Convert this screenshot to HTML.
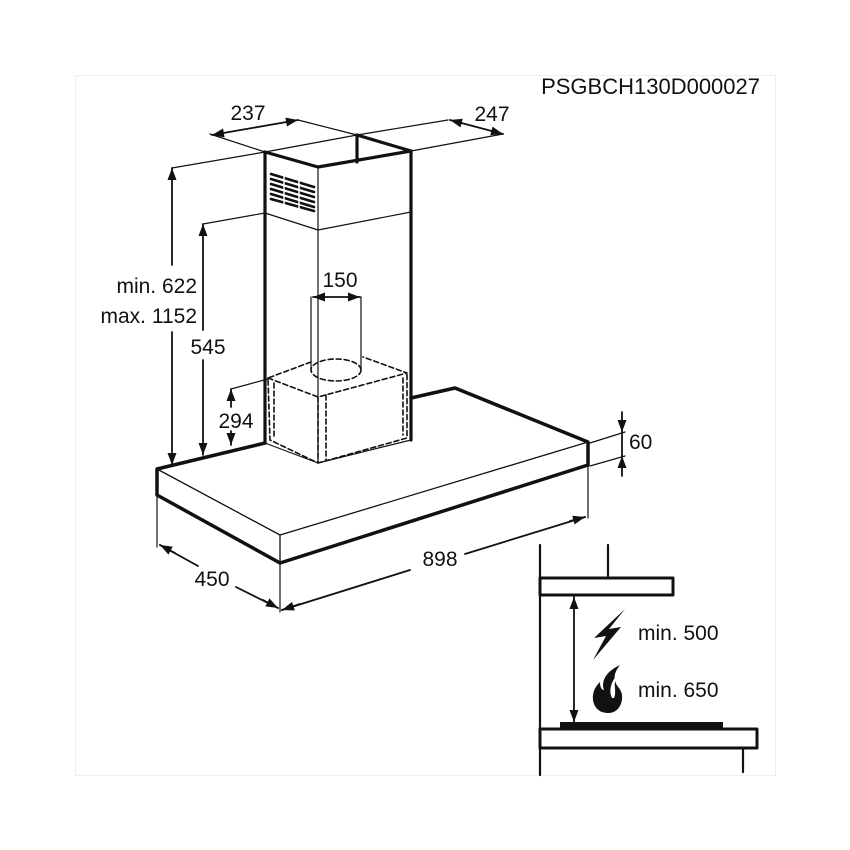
<!DOCTYPE html>
<html><head><meta charset="utf-8"><style>
html,body{margin:0;padding:0;background:#fff}
svg{display:block}
text{font-family:"Liberation Sans",Arial,sans-serif;fill:#111}
</style></head><body>
<svg width="850" height="850" viewBox="0 0 850 850" xmlns="http://www.w3.org/2000/svg">
<defs>
<marker id="a" viewBox="0 0 12 10" refX="12" refY="5" markerWidth="13" markerHeight="10" orient="auto-start-reverse" markerUnits="userSpaceOnUse"><path d="M0,0.5 L12,5 L0,9.5 z" fill="#111"/></marker>
</defs>
<rect x="75.5" y="75.5" width="700" height="700" fill="none" stroke="#eee" stroke-width="1"/>
<text x="760" y="94" font-size="22" text-anchor="end">PSGBCH130D000027</text>

<g stroke="#111" fill="none" stroke-linecap="round" stroke-linejoin="round">
<!-- hood canopy -->
<path d="M157,469 L280,535 L588,442 M280,535 L280,563" stroke-width="1.3"/>
<path d="M411,398 L455,388 L588,442 L588,465 L280,563 L157,495 L157,469 L265,443" stroke-width="3.5"/>
<!-- chimney -->
<path d="M265,152 L265,443 M411,151 L411,440 M265,152 L318,167 L411,151 M357,135 L411,151 M357,135 L357,162" stroke-width="3.2"/>
<path d="M318,167 L318,463 M265,213 L318,230 L411,212 M265,152 L357,135" stroke-width="1.2"/>
<path d="M318,463 L265,443 M318,463 L411,440" stroke-width="1.2"/>
<!-- vents -->
<g stroke-width="2.6">
<path d="M271,174 L314,187 M271,179 L314,192 M271,184 L314,197 M271,189 L314,202 M271,194 L314,207 M271,199 L314,211"/>
</g>
<path d="M284,172 L284,205 M299,176 L299,209" stroke="#fff" stroke-width="1.5"/>
<!-- duct -->
<path d="M311,297 L311,370 M361,297 L361,370" stroke-width="1.2"/>
<g stroke-dasharray="5,3" stroke-width="1.6">
<ellipse cx="336" cy="370" rx="25" ry="11"/>
<path d="M268,378 L318,397 L407,373 L363,357 M311,362 L268,378 L270,440 L318,463 L407,438 L407,373 M318,397 L318,463 M326,395 L326,460 M274,383 L274,437 M403,378 L403,435"/>
</g>
<!-- dimension lines -->
<g stroke-width="1.2">
<path d="M172,168 L265,152 M203,224 L265,213 M231,389 L268,379"/>
<path d="M210,134 L265,152 M298,120 L357,135 M357,135 L448,120 M411,151 L503,134"/>
<path d="M157,495 L157,547 M280,563 L280,612 M588,465 L588,518"/>
<path d="M590,443 L625,432 M590,466 L625,456"/>
</g>
<g stroke-width="1.8">
<path d="M172,265 L172,168" marker-end="url(#a)"/>
<path d="M172,332 L172,465" marker-end="url(#a)"/>
<path d="M203,330 L203,224" marker-end="url(#a)"/>
<path d="M203,360 L203,455" marker-end="url(#a)"/>
<path d="M231,407 L231,389" marker-end="url(#a)"/>
<path d="M231,431 L231,445" marker-end="url(#a)"/>
<path d="M212,135 L298,120" marker-start="url(#a)" marker-end="url(#a)"/>
<path d="M450,120 L503,134" marker-start="url(#a)" marker-end="url(#a)"/>
<path d="M313,297 L360,297" marker-start="url(#a)" marker-end="url(#a)"/>
<path d="M160,545 L198,566 M236,587 L278,608" />
<path d="M160,545 L175,553" marker-start="url(#a)"/>
<path d="M263,600 L278,608" marker-end="url(#a)"/>
<path d="M282,610 L410,570 M465,554 L585,517"/>
<path d="M282,610 L300,604" marker-start="url(#a)"/>
<path d="M570,521 L585,517" marker-end="url(#a)"/>
<path d="M622,412 L622,432" marker-end="url(#a)"/>
<path d="M622,476 L622,456" marker-end="url(#a)"/>
<path d="M622,432 L622,456"/>
</g>
<!-- inset -->
<path d="M540,545 L540,775 M608,545 L608,578 M743,748 L743,772" stroke-width="2.2"/>
<rect x="540" y="578" width="133" height="17" stroke-width="3"/>
<rect x="540" y="729" width="217" height="19" stroke-width="3"/>
<path d="M574,597 L574,722" stroke-width="1.8" marker-start="url(#a)" marker-end="url(#a)"/>
</g>
<rect x="560" y="722" width="163" height="7" fill="#111"/>
<path d="M625,609 L594,638 L606,636 L593,660 L621,627 L609,629 Z" fill="#111"/>
<path d="M608,713 C596,713 592,703 593,695 C594,688 598,684 600,682 C600,688 602,690 604,690 C601,682 605,672 620,665 C612,675 614,682 619,688 C623,693 623,700 620,706 C617,711 613,713 608,713 Z" fill="#111"/>
<path d="M612,698 C609,692 610,684 616,676 C613,686 617,692 614,698 Z" fill="#fff"/>

<text x="248" y="120" font-size="21" text-anchor="middle">237</text>
<text x="492" y="121" font-size="21" text-anchor="middle">247</text>
<text x="197" y="293" font-size="21" text-anchor="end">min. 622</text>
<text x="197" y="323" font-size="21" text-anchor="end">max. 1152</text>
<text x="208" y="354" font-size="21" text-anchor="middle">545</text>
<text x="236" y="428" font-size="21" text-anchor="middle">294</text>
<text x="340" y="287" font-size="21" text-anchor="middle">150</text>
<text x="629" y="449" font-size="21">60</text>
<text x="212" y="586" font-size="21" text-anchor="middle">450</text>
<text x="440" y="566" font-size="21" text-anchor="middle">898</text>
<text x="638" y="640" font-size="21">min. 500</text>
<text x="638" y="697" font-size="21">min. 650</text>
</svg>
</body></html>
